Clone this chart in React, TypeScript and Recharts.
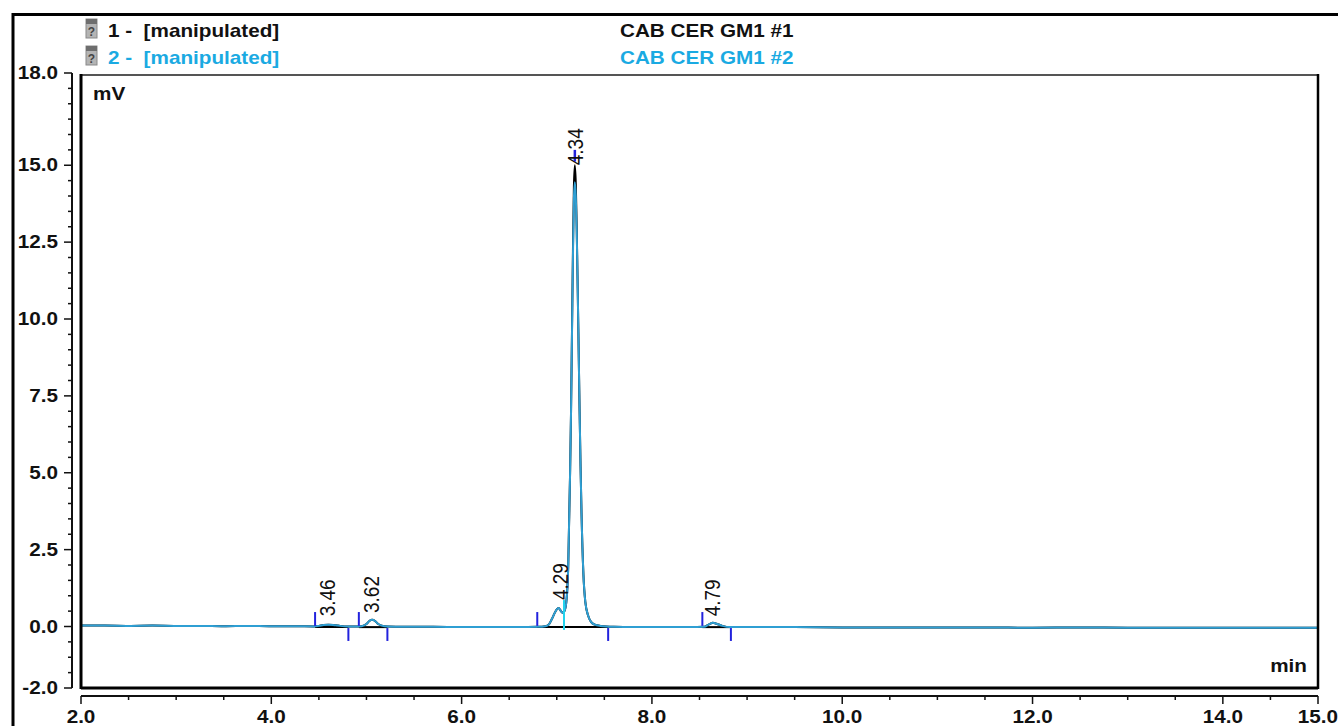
import { ComposedChart, Line, XAxis, YAxis, ReferenceLine, ReferenceDot } from "recharts";

// retention time (min)
const TIME = [
  2.0, 2.25, 2.5, 2.75, 3.0, 3.25, 3.5, 3.75, 4.0, 4.25, 4.45, 4.5, 4.55, 4.6, 4.65, 4.7, 4.8, 4.9,
  4.95, 5.0, 5.03, 5.06, 5.09, 5.12, 5.16, 5.22, 5.4, 5.7, 6.0, 6.3, 6.6, 6.8, 6.88, 6.92, 6.95,
  6.98, 7.0, 7.02, 7.04, 7.06, 7.08, 7.1, 7.12, 7.14, 7.15, 7.16, 7.17, 7.18, 7.19, 7.2, 7.21, 7.22,
  7.23, 7.24, 7.25, 7.26, 7.28, 7.3, 7.33, 7.36, 7.4, 7.46, 7.6, 7.8, 8.0, 8.2, 8.4, 8.55, 8.6, 8.64,
  8.68, 8.74, 8.82, 9.0, 9.5, 10.0, 10.5, 11.0, 11.5, 12.0, 12.5, 13.0, 13.5, 14.0, 14.5, 15.0,
];

// run #1 (black), mV
const CH1 = [
  0.03, 0.03, 0.02, 0.03, 0.02, 0.02, 0.01, 0.02, 0.01, 0.01, 0.0, 0.02, 0.05, 0.06, 0.05, 0.03, 0.0, 0.0,
  0.01, 0.08, 0.18, 0.22, 0.18, 0.09, 0.03, 0.0, -0.01, -0.01, -0.02, -0.02, -0.02, -0.01, 0.01, 0.08, 0.25,
  0.45, 0.56, 0.6, 0.52, 0.45, 0.5, 0.78, 1.9, 5.0, 7.0, 9.6, 12.2, 14.3, 15.0, 14.4, 12.9, 11.0,
  9.0, 7.0, 5.2, 3.7, 1.7, 0.8, 0.35, 0.15, 0.06, 0.02, -0.01, -0.02, -0.02, -0.02, -0.02, -0.01, 0.07, 0.12,
  0.09, 0.02, -0.02, -0.02, -0.02, -0.03, -0.03, -0.03, -0.03, -0.04, -0.03, -0.04, -0.04, -0.04, -0.04, -0.04,
];

// run #2 (blue), mV
const CH2 = [
  0.03, 0.03, 0.02, 0.03, 0.02, 0.02, 0.01, 0.02, 0.01, 0.01, 0.0, 0.02, 0.05, 0.06, 0.05, 0.03, 0.0, 0.0,
  0.01, 0.08, 0.18, 0.22, 0.18, 0.09, 0.03, 0.0, -0.01, -0.01, -0.02, -0.02, -0.02, -0.01, 0.01, 0.08, 0.25,
  0.45, 0.56, 0.6, 0.52, 0.45, 0.5, 0.78, 1.9, 5.0, 7.0, 9.5, 12.0, 13.9, 14.45, 14.0, 12.8, 11.0,
  9.0, 7.0, 5.2, 3.7, 1.7, 0.8, 0.35, 0.15, 0.06, 0.02, -0.01, -0.02, -0.02, -0.02, -0.02, -0.01, 0.07, 0.12,
  0.09, 0.02, -0.02, -0.02, -0.02, -0.03, -0.03, -0.03, -0.03, -0.04, -0.03, -0.04, -0.04, -0.04, -0.04, -0.04,
];

const X_TICKS = [
  2, 2.5, 3, 3.5, 4, 4.5, 5, 5.5, 6, 6.5, 7, 7.5, 8, 8.5, 9, 9.5, 10, 10.5, 11, 11.5, 12, 12.5, 13,
  13.5, 14, 14.5, 15,
];
const X_LABELS = [2, 4, 6, 8, 10, 12, 14, 15];
const Y_TICKS = [
  -2, -1.5, -1, -0.5, 0, 0.5, 1, 1.5, 2, 2.5, 3, 3.5, 4, 4.5, 5, 5.5, 6, 6.5, 7, 7.5, 8, 8.5, 9, 9.5,
  10, 10.5, 11, 11.5, 12, 12.5, 13, 13.5, 14, 14.5, 15, 15.5, 16, 16.5, 17, 17.5, 18,
];
const Y_LABELS = [-2, 0, 2.5, 5, 7.5, 10, 12.5, 15, 18];

// peak annotations
const PEAK_NAMES = ["3.46", "3.62", "4.29", "4.34", "4.79"];
const PEAK_LABEL_T = [4.59, 5.05, 7.03, 7.19, 8.63];
const PEAK_LABEL_Y = [0.33, 0.44, 0.86, 15.0, 0.33];
const PEAK_START = [4.46, 4.92, 6.795, 8.53];
const PEAK_END = [4.81, 5.22, 7.54, 8.83];
const PEAK_SPLIT = [7.076];
const PEAK_APEX = [7.19];

const rows = TIME.map((t, i) => ({ t, ch1: CH1[i], ch2: CH2[i] }));

const FONT = "'Liberation Sans', Arial, sans-serif";
const BLUE = "#2f9fd3";
const CYAN_TEXT = "#1aaae2";
const MARK = "#2222dd";
const PLOT = { left: 81, top: 73, right: 1318, bottom: 688 };

function HText({ x, y, children, anchor = "start", bold = false, fill = "#111", size = 18 }: any) {
  return (
    <text
      transform={`translate(${x},${y}) scale(1.15,1)`}
      textAnchor={anchor}
      fontFamily={FONT}
      fontSize={size}
      fontWeight={bold ? "bold" : "normal"}
      fill={fill}
      style={{ whiteSpace: "pre" }}
    >
      {children}
    </text>
  );
}

function YTick({ y, payload }: any) {
  const major = Y_LABELS.includes(payload.value);
  const ax = PLOT.left - 9;
  return (
    <g>
      <line x1={ax} x2={ax - (major ? 8 : 4)} y1={y} y2={y} stroke="#111" strokeWidth={1.5} />
      {major && (
        <HText x={PLOT.left - 23} y={y + 6} anchor="end" bold>
          {payload.value.toFixed(1)}
        </HText>
      )}
    </g>
  );
}

function XTick({ x, payload }: any) {
  const major = X_LABELS.includes(payload.value);
  const ay = PLOT.bottom + 8;
  return (
    <g>
      <line x1={x} x2={x} y1={ay} y2={ay + (major ? 8 : 4)} stroke="#111" strokeWidth={1.5} />
      {major && (
        <HText x={x} y={PLOT.bottom + 35} anchor="middle" bold>
          {payload.value.toFixed(1)}
        </HText>
      )}
    </g>
  );
}

function PeakLabel({ cx, cy, name }: any) {
  return (
    <text
      transform={`translate(${cx},${cy}) scale(1.15,1) rotate(-90)`}
      textAnchor="start"
      dominantBaseline="central"
      fontFamily={FONT}
      fontSize={19}
      fill="#111"
    >
      {name}
    </text>
  );
}

function Icon({ y }: { y: number }) {
  return (
    <g>
      <rect x={86} y={y} width={11} height={19} fill="#b4b4b4" stroke="#8a8a8a" strokeWidth={1} />
      <rect x={86} y={y} width={11} height={5} fill="#6e6e6e" />
      <text x={91.5} y={y + 17} textAnchor="middle" fontFamily={FONT} fontSize={12} fontWeight="bold" fill="#444">
        ?
      </text>
    </g>
  );
}

export default function App() {
  return (
    <div
      style={{
        position: "fixed",
        left: 0,
        top: 0,
        width: 1338,
        height: 726,
        background: "#fff",
        overflow: "hidden",
      }}
    >
      <ComposedChart
        width={1338}
        height={726}
        data={rows}
        margin={{ top: PLOT.top, right: 1338 - PLOT.right, bottom: 8, left: 21 }}
      >
        <XAxis
          dataKey="t"
          type="number"
          domain={[2, 15]}
          ticks={X_TICKS}
          interval={0}
          axisLine={false}
          tickLine={false}
          tickSize={0}
          tickMargin={0}
          height={30}
          tick={<XTick />}
        />
        <YAxis
          type="number"
          domain={[-2, 18]}
          ticks={Y_TICKS}
          interval={0}
          axisLine={false}
          tickLine={false}
          tickSize={0}
          tickMargin={0}
          width={60}
          tick={<YTick />}
        />
        {PEAK_START.map((t, i) => (
          <ReferenceLine
            key={"b" + i}
            segment={[
              { x: t, y: -0.02 },
              { x: PEAK_END[i], y: -0.02 },
            ]}
            stroke="#000"
            strokeWidth={2}
          />
        ))}
        <Line
          dataKey="ch1"
          type="monotone"
          stroke="#000"
          strokeWidth={2}
          dot={false}
          isAnimationActive={false}
        />
        <Line
          dataKey="ch2"
          type="monotone"
          stroke={BLUE}
          strokeWidth={2}
          dot={false}
          isAnimationActive={false}
        />
        {PEAK_START.map((t, i) => (
          <ReferenceLine
            key={"s" + i}
            segment={[
              { x: t, y: 0.02 },
              { x: t, y: 0.47 },
            ]}
            stroke={MARK}
            strokeWidth={2}
            ifOverflow="visible"
          />
        ))}
        {PEAK_END.map((t, i) => (
          <ReferenceLine
            key={"e" + i}
            segment={[
              { x: t, y: -0.05 },
              { x: t, y: -0.47 },
            ]}
            stroke={MARK}
            strokeWidth={2}
            ifOverflow="visible"
          />
        ))}
        {PEAK_SPLIT.map((t, i) => (
          <ReferenceLine
            key={"p" + i}
            segment={[
              { x: t, y: 0.86 },
              { x: t, y: -0.11 },
            ]}
            stroke="#22d3ee"
            strokeWidth={2}
            ifOverflow="visible"
          />
        ))}
        {PEAK_NAMES.map((name, i) => (
          <ReferenceDot
            key={"l" + i}
            x={PEAK_LABEL_T[i]}
            y={PEAK_LABEL_Y[i]}
            r={0}
            ifOverflow="visible"
            shape={(p: any) => <PeakLabel cx={p.cx} cy={p.cy} name={name} />}
          />
        ))}
        {PEAK_APEX.map((t, i) => (
          <ReferenceLine
            key={"a" + i}
            segment={[
              { x: t, y: 15.12 },
              { x: t, y: 15.5 },
            ]}
            stroke={MARK}
            strokeWidth={2.5}
            ifOverflow="visible"
          />
        ))}
      </ComposedChart>
      <svg
        width={1338}
        height={726}
        style={{ position: "absolute", left: 0, top: 0, pointerEvents: "none" }}
      >
        {/* outer frame */}
        <line x1={12} x2={1338} y1={14.5} y2={14.5} stroke="#000" strokeWidth={3} />
        <line x1={13} x2={13} y1={13} y2={726} stroke="#000" strokeWidth={3} />
        {/* plot box */}
        <line x1={PLOT.left} x2={PLOT.right} y1={75} y2={75} stroke="#555" strokeWidth={2} />
        <line x1={PLOT.left} x2={PLOT.left} y1={74} y2={PLOT.bottom + 1} stroke="#000" strokeWidth={3} />
        <line x1={PLOT.right} x2={PLOT.right} y1={74} y2={PLOT.bottom + 1} stroke="#000" strokeWidth={2.5} />
        <line x1={PLOT.left} x2={PLOT.right} y1={PLOT.bottom} y2={PLOT.bottom} stroke="#000" strokeWidth={3} />
        {/* axis lines */}
        <line x1={PLOT.left - 9} x2={PLOT.left - 9} y1={PLOT.top} y2={PLOT.bottom} stroke="#111" strokeWidth={2} />
        <line x1={PLOT.left} x2={PLOT.right} y1={PLOT.bottom + 8} y2={PLOT.bottom + 8} stroke="#111" strokeWidth={2} />
        {/* header */}
        <Icon y={19} />
        <Icon y={46} />
        <HText x={108} y={37} bold>
          {"1 -\u00a0 [manipulated]"}
        </HText>
        <HText x={108} y={64} bold fill={CYAN_TEXT}>
          {"2 -\u00a0 [manipulated]"}
        </HText>
        <HText x={620} y={37} bold>
          CAB CER GM1 #1
        </HText>
        <HText x={620} y={64} bold fill={CYAN_TEXT}>
          CAB CER GM1 #2
        </HText>
        <HText x={93} y={100} bold>
          mV
        </HText>
        <HText x={1307} y={672} bold anchor="end">
          min
        </HText>
      </svg>
    </div>
  );
}
